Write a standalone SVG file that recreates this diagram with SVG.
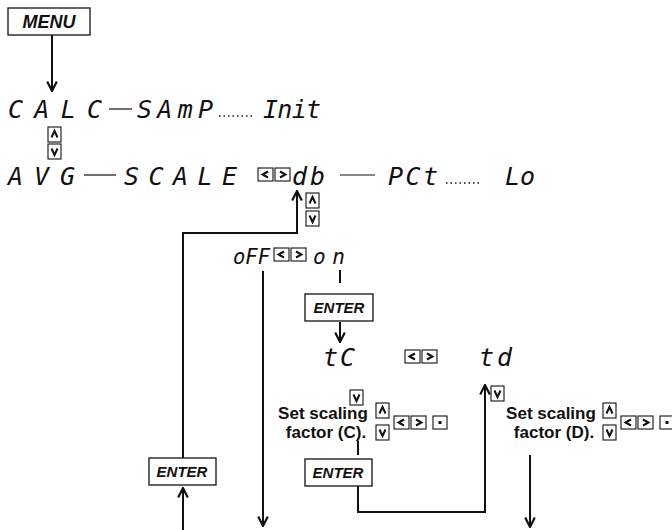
<svg xmlns="http://www.w3.org/2000/svg" width="672" height="530" viewBox="0 0 672 530">
<defs>
<style>
.seg{font-family:"DejaVu Sans Mono","Liberation Mono",monospace;font-style:italic;font-size:25px;fill:#111;}
.seg2{font-family:"DejaVu Sans Mono","Liberation Mono",monospace;font-style:italic;font-size:21px;fill:#111;}
.btn{fill:#fff;stroke:#111;stroke-width:1.3;}
.btxt{font-family:"Liberation Sans",Arial,sans-serif;font-weight:bold;font-style:italic;font-size:15px;fill:#111;text-anchor:middle;}
.key{fill:#fff;stroke:#111;stroke-width:1.1;}
.chev{fill:none;stroke:#111;stroke-width:2;stroke-linejoin:miter;}
.lbl{font-family:"Liberation Sans",Arial,sans-serif;font-weight:bold;font-size:17px;fill:#111;text-anchor:middle;}
.ln{stroke:#111;stroke-width:2;fill:none;}
.dash{stroke:#111;stroke-width:1.2;fill:none;}
.dots{stroke:#111;stroke-width:1.5;stroke-dasharray:1.5 3;fill:none;}
</style>
<marker id="ah" viewBox="0 0 10 10" refX="9" refY="5" markerWidth="6" markerHeight="6" orient="auto" markerUnits="strokeWidth">
<path d="M1,1 L9,5 L1,9" fill="none" stroke="#111" stroke-width="1.8"/>
</marker>
<g id="kup"><rect class="key" x="0" y="0" width="13" height="15"/><polyline class="chev" points="3.5,10.5 6.5,4 9.5,10.5"/></g>
<g id="kdn"><rect class="key" x="0" y="0" width="13" height="15"/><polyline class="chev" points="3.5,4.5 6.5,11 9.5,4.5"/></g>
<g id="klr"><rect class="key" x="0" y="0" width="15" height="13"/><polyline class="chev" points="10,3.5 4.5,6.5 10,9.5"/><rect class="key" x="17" y="0" width="15" height="13"/><polyline class="chev" points="22,3.5 27.5,6.5 22,9.5"/></g>
<g id="kdot"><rect class="key" x="0" y="0" width="14" height="13"/><rect x="5.5" y="5" width="3" height="3" fill="#111"/></g>
</defs>
<rect width="672" height="530" fill="#fff"/>

<g id="menu"><rect class="btn" x="8" y="8" width="82" height="27"/><text class="btxt" x="49" y="28" style="font-size:18px">MENU</text></g>

<g id="calc"><text class="seg" x="8" y="118" textLength="94" lengthAdjust="spacing">CALC</text></g>
<g id="samp"><text class="seg" x="137" y="118" textLength="76" lengthAdjust="spacing">SAmP</text></g>
<g id="init"><text class="seg" x="263" y="118" textLength="58" lengthAdjust="spacing">Init</text></g>
<g id="calc-keys"><use href="#kup" x="48" y="127"/><use href="#kdn" x="48" y="144"/></g>

<g id="avg"><text class="seg" x="8" y="185" textLength="67" lengthAdjust="spacing">AVG</text></g>
<g id="scale"><text class="seg" x="124" y="185" textLength="113" lengthAdjust="spacing">SCALE</text><use href="#klr" x="258" y="168"/></g>
<g id="db"><text class="seg" x="292" y="185" textLength="33" lengthAdjust="spacing">db</text><use href="#kup" x="306" y="193"/><use href="#kdn" x="306" y="211"/></g>
<g id="pct"><text class="seg" x="388" y="185" textLength="50" lengthAdjust="spacing">PCt</text></g>
<g id="lo"><text class="seg" x="505" y="185" textLength="30" lengthAdjust="spacing">Lo</text></g>

<g id="off"><text class="seg2" x="233" y="264" textLength="37" lengthAdjust="spacingAndGlyphs">oFF</text><use href="#klr" x="274" y="248"/></g>
<g id="on"><text class="seg2" x="313" y="264" textLength="32" lengthAdjust="spacing">on</text></g>
<g id="enter1"><rect class="btn" x="305" y="294" width="68" height="27"/><text class="btxt" x="339" y="313">ENTER</text></g>

<g id="tc"><text class="seg" x="323" y="366" textLength="32" lengthAdjust="spacing">tC</text><use href="#klr" x="405" y="350"/><use href="#kdn" x="350" y="390"/></g>
<g id="td"><text class="seg" x="479" y="366" textLength="33" lengthAdjust="spacing">td</text><use href="#kdn" x="491" y="386"/></g>

<g id="setc"><text class="lbl" x="323" y="419">Set scaling</text><text class="lbl" x="326" y="438">factor (C).</text><use href="#kup" x="376" y="403"/><use href="#kdn" x="376" y="425"/><use href="#klr" x="394" y="416"/><use href="#kdot" x="433" y="416"/></g>
<g id="setd"><text class="lbl" x="551" y="419">Set scaling</text><text class="lbl" x="554" y="438">factor (D).</text><use href="#kup" x="603" y="403"/><use href="#kdn" x="603" y="425"/><use href="#klr" x="621" y="416"/><use href="#kdot" x="660" y="416"/></g>

<g id="enter2"><rect class="btn" x="305" y="459" width="67" height="27"/><text class="btxt" x="338" y="478">ENTER</text></g>
<g id="enter3"><rect class="btn" x="149" y="458" width="67" height="27"/><text class="btxt" x="182" y="477">ENTER</text></g>

<g id="connectors">
<line class="ln" x1="52" y1="35" x2="52" y2="91" marker-end="url(#ah)"/>
<line class="dash" x1="109" y1="109" x2="132" y2="109"/>
<line class="dots" x1="219" y1="116" x2="252" y2="116"/>
<line class="dash" x1="84" y1="175" x2="116" y2="175"/>
<line class="dash" x1="340" y1="175" x2="375" y2="175"/>
<line class="dots" x1="446" y1="183" x2="482" y2="183"/>
<polyline class="ln" points="183,458 183,233 297,233 297,191" marker-end="url(#ah)"/>
<line class="ln" x1="263" y1="271" x2="263" y2="526" marker-end="url(#ah)"/>
<line class="ln" x1="340" y1="270" x2="340" y2="283"/>
<line class="ln" x1="340" y1="322" x2="340" y2="342" marker-end="url(#ah)"/>
<line class="ln" x1="358" y1="441" x2="358" y2="455"/>
<polyline class="ln" points="358,486 358,512 485,512 485,385" marker-end="url(#ah)"/>
<line class="ln" x1="530" y1="455" x2="530" y2="527" marker-end="url(#ah)"/>
<line class="ln" x1="183" y1="530" x2="183" y2="488" marker-end="url(#ah)"/>
</g>
</svg>
